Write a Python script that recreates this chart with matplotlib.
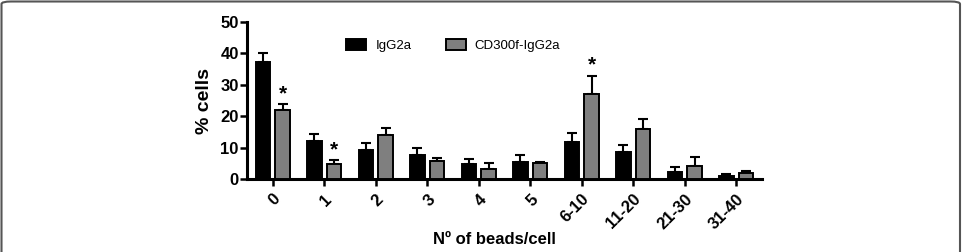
import matplotlib
matplotlib.use("Agg")
import matplotlib.pyplot as plt
import matplotlib.transforms as mtransforms
import numpy as np
from matplotlib.patches import FancyBboxPatch

categories = ["0", "1", "2", "3", "4", "5", "6-10", "11-20", "21-30", "31-40"]
igg2a = [37.4, 12.2, 9.3, 7.6, 4.7, 5.4, 11.9, 8.7, 2.3, 1.0]
igg2a_err = [2.6, 2.1, 2.3, 2.2, 1.7, 2.2, 2.8, 2.1, 1.5, 0.7]
cd300f = [22.0, 4.7, 13.9, 5.6, 3.1, 5.1, 27.2, 16.0, 4.2, 1.8]
cd300f_err = [1.8, 1.3, 2.4, 1.0, 1.9, 0.4, 5.7, 3.1, 2.9, 0.7]
significant = [True, True, False, False, False, False, True, False, False, False]

plt.rcParams['font.family'] = ['Liberation Sans', 'DejaVu Sans']

fig = plt.figure(figsize=(9.63, 2.52), dpi=100)
ax = fig.add_axes([247/963, 1-179/252, (762-247)/963, (179-22)/252])

# rounded frame around the figure
frame = FancyBboxPatch((1.5/963, -0.2), (960-1.5)/963, 1.2 - 1.5/252,
                       boxstyle="round,pad=0,rounding_size=0.01",
                       transform=fig.transFigure, fill=False,
                       edgecolor="#555555", linewidth=1.5, clip_on=False)
fig.patches.append(frame)

x = np.arange(len(categories))
off = 0.19
w = 0.28
ax.bar(x - off, igg2a, w, color="black", edgecolor="black", linewidth=1.4,
       label="IgG2a", zorder=3)
ax.bar(x + off, cd300f, w, color="#7f7f7f", edgecolor="black", linewidth=1.4,
       label="CD300f-IgG2a", zorder=3)
ax.errorbar(x - off, igg2a, yerr=[np.zeros(len(x)), igg2a_err], fmt="none",
            ecolor="black", elinewidth=1.5, capsize=3.5, capthick=1.5, zorder=2)
ax.errorbar(x + off, cd300f, yerr=[np.zeros(len(x)), cd300f_err], fmt="none",
            ecolor="black", elinewidth=1.5, capsize=3.5, capthick=1.5, zorder=2)

for i, s in enumerate(significant):
    if s:
        ax.text(x[i] + off, cd300f[i] + cd300f_err[i] + 0.3, "*", ha="center",
                va="bottom", fontsize=15, fontweight="bold")

ax.set_xlim(-0.5, 9.5)
ax.set_ylim(0, 50)
ax.set_yticks([0, 10, 20, 30, 40, 50])
ax.set_xticks(x)
ax.set_xticklabels(categories, rotation=45, ha="right", rotation_mode="anchor",
                   fontweight="bold", fontsize=12)
shift = mtransforms.ScaledTranslation(-4/100, 0, fig.dpi_scale_trans)
for lab in ax.get_xticklabels():
    lab.set_transform(lab.get_transform() + shift)
for lab in ax.get_yticklabels():
    lab.set_fontweight("bold")
    lab.set_fontsize(12)
ax.tick_params(axis="both", width=1.8, length=5, direction="out", pad=1)
ax.tick_params(axis="x", pad=4)
for sp in ["top", "right"]:
    ax.spines[sp].set_visible(False)
for sp in ["left", "bottom"]:
    ax.spines[sp].set_linewidth(2.2)

ax.set_ylabel("% cells", fontweight="bold", fontsize=14, va="center")
ax.yaxis.set_label_coords(-0.0816, 0.50)
ax.set_xlabel("Nº of beads/cell", fontweight="bold", fontsize=12, va="center")
ax.xaxis.set_label_coords(0.48, -0.385)

ax.legend(loc="upper left", bbox_to_anchor=(0.17, 0.97), ncol=2, frameon=False,
          fontsize=9.5, handlelength=1.5, handleheight=0.9, columnspacing=2.6,
          handletextpad=0.7)

fig.savefig("out.png", dpi=100)
